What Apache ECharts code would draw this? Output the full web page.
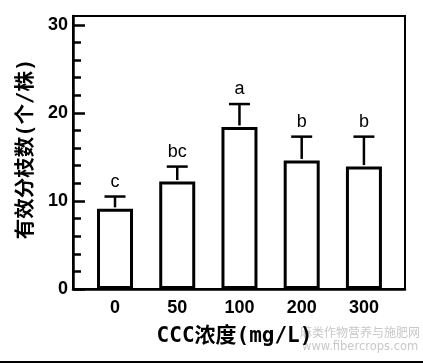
<!DOCTYPE html>
<html><head><meta charset="utf-8">
<script src="https://cdn.jsdelivr.net/npm/echarts@6/dist/echarts.min.js"></script>
<style>html,body{margin:0;padding:0;background:#fff}#c{width:423px;height:363px}</style>
</head><body><div id="c"></div>
<script>
var categories = ['0', '50', '100', '200', '300'];
var means = [9.1, 12.2, 18.4, 14.6, 13.9];
var errs = [1.4, 1.7, 2.6, 2.7, 3.4];
var letters = ['c', 'bc', 'a', 'b', 'b'];
var yMajorTicks = [0, 10, 20, 30];
var yMinorTicks = [0, 2, 4, 6, 8, 10, 12, 14, 16, 18, 20, 22, 24, 26, 28, 30];
var xName = 'CCC浓度(mg/L)';
var yName = '有效分枝数(个/株)';

var idx = categories.map(function (c, i) { return i; });
var barData = means.map(function (m, i) { return [i, m]; });
var errData = means.map(function (m, i) { return [i, m, errs[i]]; });

var numFont = '"Liberation Sans", Arial, sans-serif';
var cjkFont = '"DejaVu Sans Mono", "Noto Sans CJK SC", sans-serif';

var chart = echarts.init(document.getElementById('c'), null, {renderer: 'canvas'});
chart.setOption({
  animation: false,
  backgroundColor: '#fff',
  grid: {left: 73, right: 18, top: 16, bottom: 74, show: true, borderColor: '#000', borderWidth: 2, backgroundColor: 'transparent'},
  xAxis: {
    type: 'value', min: -0.675, max: 4.66,
    splitLine: {show: false},
    axisLine: {show: true, onZero: false, lineStyle: {color: '#000', width: 2.5}},
    axisTick: {show: true, inside: true, length: 10, customValues: idx, lineStyle: {color: '#000', width: 2.5}},
    axisLabel: {show: true, customValues: idx, margin: 10, color: '#000', fontSize: 18, fontWeight: 'bold', fontFamily: numFont,
      formatter: function (v) { return categories[Math.round(v)]; }},
    name: xName, nameLocation: 'middle', nameGap: 37,
    nameTextStyle: {color: '#000', fontSize: 21, fontWeight: 'bold', fontFamily: cjkFont, padding: [0, 9, 0, 0]}
  },
  yAxis: [{
    type: 'value', min: 0, max: 31,
    splitLine: {show: false},
    axisLine: {show: true, onZero: false, lineStyle: {color: '#000', width: 2.5}},
    axisTick: {show: true, inside: true, length: 8, customValues: yMinorTicks, lineStyle: {color: '#000', width: 2.5}},
    axisLabel: {show: true, customValues: yMajorTicks, margin: 5, color: '#000', fontSize: 18, fontWeight: 'bold', fontFamily: numFont},
    name: yName, nameLocation: 'middle', nameGap: 36,
    nameTextStyle: {color: '#000', fontSize: 20.5, fontWeight: 'bold', fontFamily: cjkFont, padding: [0, 0, 0, 7]}
  }, {
    type: 'value', min: 0, max: 31, position: 'left',
    splitLine: {show: false},
    axisLine: {show: false, onZero: false},
    axisTick: {show: true, inside: true, length: 12, customValues: yMajorTicks, lineStyle: {color: '#000', width: 2.5}},
    axisLabel: {show: false}
  }],
  series: [{
    type: 'bar', data: barData, barWidth: 36,
    itemStyle: {color: '#fff', borderColor: '#000', borderWidth: 3},
    z: 3
  }, {
    type: 'custom', data: errData, z: 4,
    renderItem: function (params, api) {
      var x = api.value(0), m = api.value(1), e = api.value(2);
      var p0 = api.coord([x, m]);
      var p1 = api.coord([x, m + e]);
      var hw = 10.5;
      return {type: 'group', children: [
        {type: 'line', shape: {x1: p0[0], y1: p0[1] - 1.5, x2: p1[0], y2: p1[1]}, style: {stroke: '#000', lineWidth: 2.5}},
        {type: 'line', shape: {x1: p1[0] - hw, y1: p1[1], x2: p1[0] + hw, y2: p1[1]}, style: {stroke: '#000', lineWidth: 2.5}},
        {type: 'text', x: p1[0], y: p1[1] - 6, style: {text: letters[params.dataIndex], fill: '#000', font: '18px ' + numFont, align: 'center', verticalAlign: 'bottom'}}
      ]};
    }
  }],
  graphic: [
    {type: 'line', shape: {x1: 0, y1: 362, x2: 423, y2: 362}, style: {stroke: '#000', lineWidth: 2}},
    {type: 'text', left: 300, top: 326, style: {text: '麻类作物营养与施肥网', fill: '#c8c8c8', font: '12px "Noto Sans CJK SC", sans-serif'}},
    {type: 'text', left: 302, top: 341, style: {text: 'www.fibercrops.com', fill: '#c8c8c8', font: '11.5px "DejaVu Sans", sans-serif'}}
  ]
});
</script>
</body></html>
